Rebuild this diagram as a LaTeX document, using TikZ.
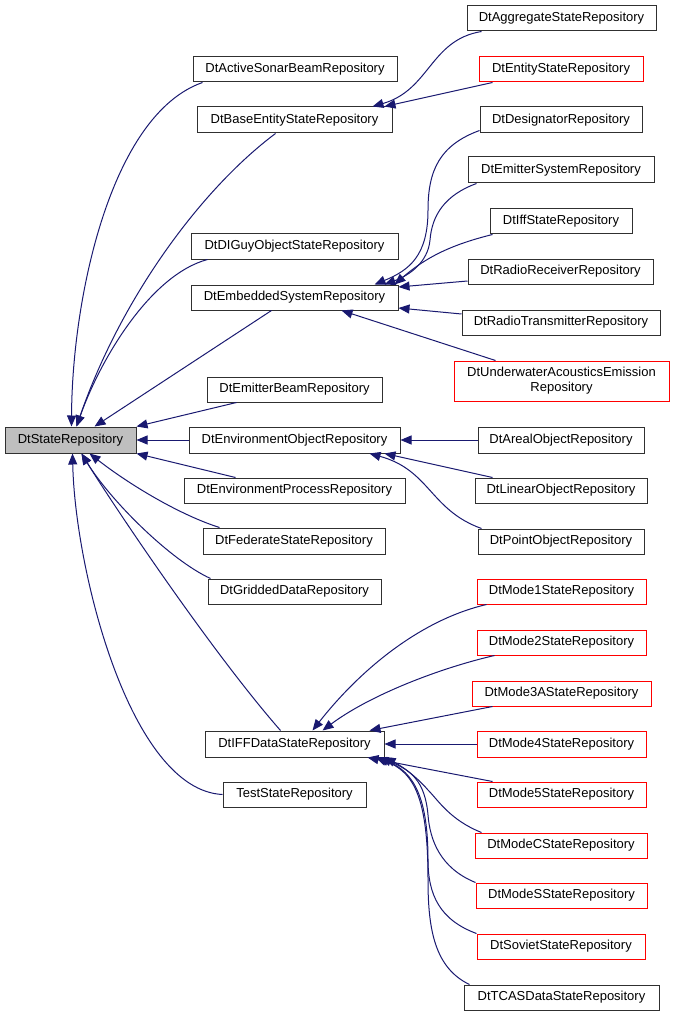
\documentclass[tikz,border=0pt]{standalone}
\usepackage{fontspec}
\setmainfont{Liberation Sans}
\usetikzlibrary{arrows.meta}
\definecolor{edgeblue}{HTML}{191970}
\definecolor{basegray}{HTML}{BFBFBF}
\definecolor{boxline}{HTML}{303030}
\tikzset{
  box/.style={draw=boxline, line width=1pt, inner sep=0pt, minimum height=25pt, align=center,
    font=\fontsize{13}{15}\selectfont, fill=white},
  redbox/.style={box, draw=red},
  edge/.style={draw=edgeblue, line width=1pt, -{Triangle[length=11pt,width=9pt]}, fill=none},
}
\begin{document}
\begin{tikzpicture}[x=1pt,y=-1pt]
\useasboundingbox (0,0) rectangle (675,1016);
% nodes
\node[box, fill=basegray, minimum width=131pt, minimum height=26pt] (S) at (70.5,440) {DtStateRepository};
\node[box, minimum width=204pt] (act) at (295,69.5) {DtActiveSonarBeamRepository};
\node[box, minimum width=195pt, minimum height=26pt] (base) at (294.5,120) {DtBaseEntityStateRepository};
\node[box, minimum width=207pt] (digu) at (294.5,246.5) {DtDIGuyObjectStateRepository};
\node[box, minimum width=207pt] (emb) at (294.5,297.5) {DtEmbeddedSystemRepository};
\node[box, minimum width=175pt] (ebeam) at (294.5,389.5) {DtEmitterBeamRepository};
\node[box, minimum width=211pt, minimum height=26pt] (envo) at (294.5,440) {DtEnvironmentObjectRepository};
\node[box, minimum width=221pt] (envp) at (294.5,490.5) {DtEnvironmentProcessRepository};
\node[box, minimum width=182pt, minimum height=26pt] (fed) at (294,541) {DtFederateStateRepository};
\node[box, minimum width=173pt] (grid) at (294.5,591.5) {DtGriddedDataRepository};
\node[box, minimum width=179pt, minimum height=26pt] (iff) at (294.5,744) {DtIFFDataStateRepository};
\node[box, minimum width=143pt] (test) at (294.5,794.5) {TestStateRepository};
% right column
\node[box, minimum width=189pt] (agg) at (561.5,18.5) {DtAggregateStateRepository};
\node[redbox, minimum width=164pt] (ent) at (561,69.5) {DtEntityStateRepository};
\node[box, minimum width=162pt, minimum height=26pt] (des) at (561,120) {DtDesignatorRepository};
\node[box, minimum width=186pt, minimum height=26pt] (esys) at (561,170) {DtEmitterSystemRepository};
\node[box, minimum width=142pt] (iffs) at (561,221.5) {DtIffStateRepository};
\node[box, minimum width=185pt] (rrec) at (560.5,271.5) {DtRadioReceiverRepository};
\node[box, minimum width=198pt] (rtx) at (561,322.5) {DtRadioTransmitterRepository};
\node[redbox, minimum width=215pt, minimum height=40pt] (uw) at (561.5,381) {DtUnderwaterAcousticsEmission\\Repository};
\node[box, minimum width=166pt, minimum height=26pt] (areal) at (561,440) {DtArealObjectRepository};
\node[box, minimum width=172pt] (lin) at (561,490.5) {DtLinearObjectRepository};
\node[box, minimum width=166pt] (pt) at (561,541.5) {DtPointObjectRepository};
\node[redbox, minimum width=169pt] (m1) at (561.5,591.5) {DtMode1StateRepository};
\node[redbox, minimum width=169pt] (m2) at (561.5,642.5) {DtMode2StateRepository};
\node[redbox, minimum width=179pt] (m3a) at (561.5,693.5) {DtMode3AStateRepository};
\node[redbox, minimum width=169pt, minimum height=26pt] (m4) at (561.5,744) {DtMode4StateRepository};
\node[redbox, minimum width=169pt] (m5) at (561.5,794.5) {DtMode5StateRepository};
\node[redbox, minimum width=172pt] (mc) at (561,845.5) {DtModeCStateRepository};
\node[redbox, minimum width=171pt] (ms) at (561.5,895.5) {DtModeSStateRepository};
\node[redbox, minimum width=168pt] (sov) at (561,946.5) {DtSovietStateRepository};
\node[box, minimum width=195pt] (tcas) at (561.5,997.5) {DtTCASDataStateRepository};

% ---- edges to DtStateRepository ----
\draw[edge] ([xshift=10pt]act.south west) .. controls (110,115) and (72,300) .. ([xshift=67pt]S.north west);
\draw[edge] ([xshift=79pt]base.south west) .. controls (200,190) and (120,300) .. ([xshift=72pt]S.north west);
\draw[edge] ([xshift=17pt]digu.south west) .. controls (150,275) and (100,360) .. ([xshift=72pt]S.north west);
\draw[edge] ([xshift=81pt]emb.south west) -- ([xshift=90pt]S.north west);
\draw[edge] ([xshift=30pt]ebeam.south west) -- (S.north east);
\draw[edge] (envo.west) -- (S.east);
\draw[edge] ([xshift=52pt]envp.north west) -- (S.south east);
\draw[edge] ([xshift=17pt]fed.north west) .. controls (180,515) and (130,485) .. ([xshift=85pt]S.south west);
\draw[edge] ([xshift=3pt]grid.north west) .. controls (170,560) and (110,500) .. ([xshift=77pt]S.south west);
\draw[edge] ([xshift=76pt]iff.north west) .. controls (210,650) and (110,500) .. ([xshift=77pt]S.south west);
\draw[edge] (test.west) .. controls (130,790) and (75,570) .. ([xshift=68pt]S.south west);
% ---- edges to DtBaseEntityStateRepository ----
\draw[edge] ([xshift=15pt]agg.south west) .. controls (430,40) and (430,90) .. ([xshift=176pt]base.north west);
\draw[edge] ([xshift=14pt]ent.south west) -- ([xshift=188pt]base.north west);
% ---- edges to DtEmbeddedSystemRepository ----
\draw[edge] ([yshift=3pt]des.south west) .. controls (440,145) and (428,170) .. (428,210)
   .. controls (428,255) and (410,270) .. ([xshift=184pt]emb.north west);
\draw[edge] ([xshift=9pt]esys.south west) .. controls (445,195) and (432,215) .. (430,240)
   .. controls (428,262) and (410,275) .. ([xshift=194pt]emb.north west);
\draw[edge] ([xshift=3pt]iffs.south west) .. controls (450,245) and (425,258) .. ([xshift=204pt]emb.north west);
\draw[edge] ([yshift=-9.5pt]rrec.west) -- ([yshift=10.5pt]emb.east);
\draw[edge] ([yshift=8.5pt]rtx.west) -- ([yshift=-10.5pt]emb.east);
\draw[edge] ([xshift=42pt]uw.north west) -- ([xshift=151pt]emb.south west);
% ---- edges to DtEnvironmentObjectRepository ----
\draw[edge] (areal.west) -- (envo.east);
\draw[edge] ([xshift=18pt]lin.north west) -- ([xshift=196pt]envo.south west);
\draw[edge] ([xshift=4pt]pt.north west) .. controls (430,510) and (430,470) .. ([xshift=181pt]envo.south west);
% ---- edges to DtIFFDataStateRepository ----
\draw[edge] ([xshift=10pt]m1.south west) .. controls (420,620) and (360,670) .. ([xshift=108pt]iff.north west);
\draw[edge] ([xshift=18pt]m2.south west) .. controls (440,668) and (370,695) .. ([xshift=118pt]iff.north west);
\draw[edge] ([xshift=21pt]m3a.south west) -- ([xshift=165pt]iff.north west);
\draw[edge] (m4.west) -- (iff.east);
\draw[edge] ([xshift=16pt]m5.north west) -- ([xshift=163pt]iff.south west);
\draw[edge] ([xshift=7pt]mc.north west) .. controls (450,820) and (438,800) .. (428,790)
   .. controls (415,775) and (400,765) .. (iff.south east);
\draw[edge] (ms.north west) .. controls (440,868) and (430,840) .. (428,815)
   .. controls (425,780) and (410,770) .. ([xshift=176pt]iff.south west);
\draw[edge] (sov.north west) .. controls (440,920) and (428,895) .. (428,860)
   .. controls (428,800) and (415,772) .. ([xshift=173pt]iff.south west);
\draw[edge] ([xshift=6pt]tcas.north west) .. controls (435,968) and (428,930) .. (428,880)
   .. controls (428,800) and (415,772) .. ([xshift=171pt]iff.south west);
\end{tikzpicture}
\end{document}
